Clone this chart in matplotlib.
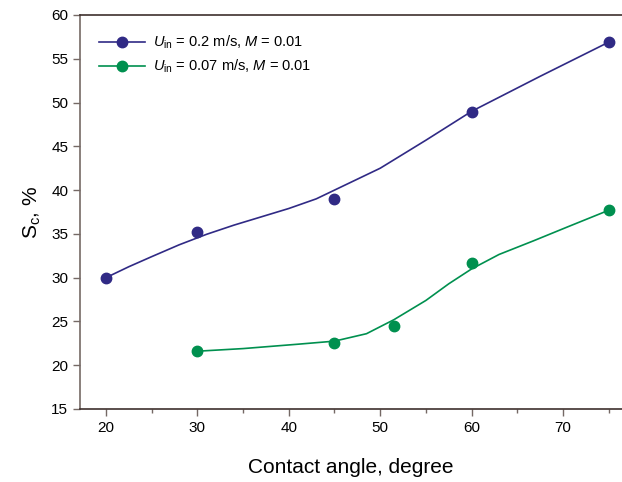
import matplotlib
matplotlib.use("Agg")
import matplotlib.pyplot as plt
from matplotlib.ticker import MultipleLocator

plt.rcParams['font.family'] = ['Liberation Sans', 'DejaVu Sans']
plt.rcParams['mathtext.fontset'] = 'custom'
plt.rcParams['mathtext.rm'] = 'Liberation Sans'
plt.rcParams['mathtext.it'] = 'Liberation Sans:italic'

# measured points
x_blue = [20, 30, 45, 60, 75]
y_blue = [30.0, 35.2, 39.0, 48.9, 56.9]
x_green = [30, 45, 51.5, 60, 75]
y_green = [21.6, 22.5, 24.5, 31.7, 37.7]

# fitted curves
fx_blue = [20, 22.5, 25, 28, 31, 34, 37, 40, 43, 46, 50, 55, 60, 67.5, 75]
fy_blue = [30.0, 31.25, 32.4, 33.75, 34.95, 36.0, 36.95, 37.9, 39.0, 40.5, 42.5, 45.7, 49.0, 53.0, 56.9]
fx_green = [30, 35, 41, 45, 48.5, 51.5, 55, 57.5, 60, 63, 66.75, 70.5, 75]
fy_green = [21.6, 21.9, 22.4, 22.75, 23.6, 25.2, 27.4, 29.3, 31.0, 32.65, 34.2, 35.8, 37.7]

blue = "#302a85"
green = "#00904f"
axcol = "#756965"
darkcol = "#3e302d"

fig = plt.figure(figsize=(6.22, 4.82), dpi=100)
ax = fig.add_axes([80/622, 73/482, 542/622, 394/482])

ax.plot(fx_blue, fy_blue, color=blue, lw=1.2)
ax.plot(fx_green, fy_green, color=green, lw=1.2)
ax.plot(x_blue, y_blue, 'o', color=blue, ms=7.5)
ax.plot(x_green, y_green, 'o', color=green, ms=7.5)

# legend handles
ax.plot([], [], '-o', color=blue, lw=1.2, ms=7.5, label=r"$U_{\rm in}$ = 0.2 m/s, $M$ = 0.01")
ax.plot([], [], '-o', color=green, lw=1.2, ms=7.5, label=r"$U_{\rm in}$ = 0.07 m/s, $M$ = 0.01")

ax.set_xlim(17.16, 76.45)
ax.set_ylim(15, 60)
ax.xaxis.set_major_locator(MultipleLocator(10))
ax.xaxis.set_minor_locator(MultipleLocator(5))
ax.yaxis.set_major_locator(MultipleLocator(5))

ax.spines['right'].set_visible(False)
ax.spines['left'].set_color(axcol)
ax.spines['bottom'].set_color(darkcol)
ax.spines['top'].set_color(darkcol)
for s in ['left', 'bottom', 'top']:
    ax.spines[s].set_linewidth(1.2)
ax.tick_params(which='major', direction='out', length=5, width=1, color=axcol, labelsize=11)
ax.tick_params(which='minor', direction='out', length=3, width=1, color=axcol)

ax.set_xlabel("Contact angle, degree", fontsize=15, labelpad=17)
ax.set_ylabel(r"S$_{\rm c}$, %", fontsize=15, labelpad=6)

handles, labels = ax.get_legend_handles_labels()
ax.legend(handles[-2:], labels[-2:], loc='upper left', bbox_to_anchor=(0.01, 0.985),
          frameon=False, fontsize=10.5, handlelength=3.2, handletextpad=0.5, labelspacing=0.45)

fig.savefig("out.png", dpi=100)
